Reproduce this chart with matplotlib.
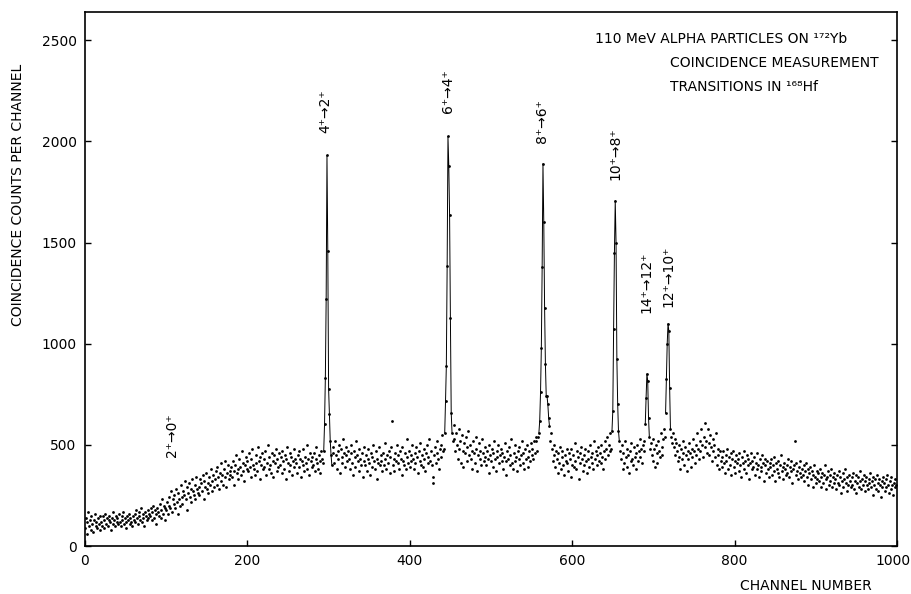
import numpy as np
import matplotlib
matplotlib.use("Agg")
import matplotlib.pyplot as plt
from matplotlib.transforms import ScaledTranslation

plt.rcParams['font.family'] = ['Liberation Sans Narrow', 'DejaVu Sans']

# coincidence counts per channel, keyed by first channel of each run
spectrum = {
    0: [90, 140, 60, 120, 170, 100, 130, 80, 150, 110,
        70, 130, 160, 100, 120, 90, 140, 110, 80, 150],
    20: [120, 100, 150, 130, 90, 160, 110, 140, 100, 130,
         150, 120, 80, 140, 110, 170, 130, 100, 150, 120],
    40: [140, 110, 160, 120, 100, 150, 130, 170, 110, 140,
         120, 90, 150, 130, 160, 110, 140, 120, 100, 150],
    60: [130, 160, 120, 180, 140, 110, 170, 150, 130, 190,
         120, 160, 140, 100, 170, 150, 130, 180, 140, 160],
    80: [150, 190, 130, 170, 200, 140, 180, 160, 110, 190,
         170, 150, 210, 140, 180, 230, 160, 200, 130, 190],
    100: [180, 220, 160, 240, 200, 190, 270, 170, 230, 210,
          250, 190, 280, 220, 160, 260, 230, 200, 300, 240],
    120: [210, 270, 250, 320, 230, 290, 180, 260, 310, 240,
          280, 220, 330, 270, 250, 300, 230, 340, 280, 260],
    140: [290, 250, 330, 310, 270, 350, 230, 320, 290, 360,
          280, 310, 260, 340, 300, 380, 270, 320, 350, 290],
    160: [330, 370, 300, 390, 340, 280, 360, 410, 320, 350,
          300, 380, 340, 420, 290, 360, 400, 330, 370, 350],
    180: [390, 340, 420, 370, 300, 400, 450, 360, 380, 330,
          430, 390, 350, 470, 370, 410, 320, 400, 440, 380],
    200: [420, 370, 460, 390, 340, 430, 480, 400, 380, 350,
          450, 410, 370, 490, 420, 330, 440, 400, 460, 380],
    220: [430, 390, 470, 350, 410, 500, 380, 440, 400, 360,
          460, 420, 340, 450, 410, 480, 370, 430, 390, 460],
    240: [400, 440, 360, 470, 420, 380, 450, 330, 430, 490,
          410, 370, 460, 400, 440, 350, 420, 480, 390, 430],
    260: [410, 360, 450, 390, 470, 430, 340, 420, 480, 400,
          370, 440, 410, 500, 380, 430, 350, 460, 420, 390],
    280: [440, 400, 460, 370, 430, 490, 410, 380, 450, 420,
          360, 470, 430],
    293: [410, 470, 604, 832, 1222, 1931, 1460, 777, 653, 520,
          450, 400],
    305: [460, 490, 410, 520, 450, 380, 470, 430, 500, 360,
          480, 440, 410, 530, 460, 390, 450, 490, 420, 470],
    325: [430, 380, 460, 500, 410, 350, 470, 440, 390, 520,
          450, 420, 370, 480, 430, 400, 460, 340, 490, 420],
    345: [400, 450, 370, 430, 480, 410, 350, 460, 390, 440,
          500, 420, 380, 470, 330, 430, 410, 490, 400, 450],
    365: [420, 370, 460, 400, 510, 430, 380, 450, 410, 470,
          360, 440, 490, 620, 400, 430, 370, 460, 420, 500],
    385: [410, 450, 380, 470, 430, 350, 490, 420, 400, 460,
          380, 530, 440, 410, 470, 390, 450, 420, 500, 430],
    405: [380, 460, 410, 490, 440, 360, 470, 420, 510, 400,
          450, 390, 480, 430, 370, 460, 500, 410, 440, 530],
    425: [420, 470, 400, 340, 310, 450, 490, 410, 460, 520,
          430, 380, 480, 500, 440, 550, 470],
    442: [480, 559, 718, 891, 1386, 2025, 1881, 1634, 1129, 658,
          560, 520],
    454: [600, 530, 470, 560, 500, 430, 580, 480, 520, 410,
          550, 470, 390, 510, 460, 540, 420, 490, 570, 450],
    474: [500, 430, 470, 380, 520, 460, 410, 540, 480, 370,
          450, 510, 430, 470, 400, 530, 460, 420, 490, 440],
    494: [400, 470, 430, 500, 360, 450, 420, 480, 390, 460,
          520, 430, 370, 470, 440, 500, 410, 450, 480, 420],
    514: [460, 380, 440, 510, 420, 350, 470, 430, 490, 400,
          450, 530, 410, 380, 460, 420, 500, 440, 370, 470],
    534: [430, 490, 400, 450, 520, 410, 460, 380, 480, 430,
          500, 440, 390, 470, 420, 510, 450, 480, 430, 520,
          460, 540],
    556: [520, 470, 540, 560, 620, 760, 980, 1380, 1890, 1600,
          1178, 901, 743, 740, 700, 634, 594, 520],
    574: [560, 480, 420, 500, 450, 390, 470, 430, 360, 460,
          410, 490, 380, 440, 470, 400, 350, 450, 420, 480],
    594: [410, 370, 460, 430, 340, 480, 400, 450, 390, 510,
          420, 380, 470, 440, 330, 460, 410, 490, 430, 370],
    614: [450, 400, 480, 420, 360, 470, 430, 390, 500, 440,
          410, 460, 380, 520, 430, 470, 400, 450, 490, 420],
    634: [460, 410, 500, 440, 380, 470, 520, 430, 480, 540,
          450, 500, 470, 560],
    648: [480, 570, 668, 1074, 1450, 1708, 1500, 926, 703, 569,
          520, 470],
    660: [430, 500, 380, 460, 410, 520, 440, 390, 480, 450,
          360, 470, 420, 510, 430, 400, 490, 440, 460, 380,
          500, 420, 470, 530, 440, 480, 410, 500, 470],
    689: [520, 604, 733, 851, 817, 634, 540, 480, 510],
    698: [450, 530, 420, 480, 390, 500, 460, 410, 520, 470,
          440, 560, 490, 450, 530, 580],
    714: [540, 658, 827, 1000, 1099, 1064, 782, 579, 540, 510],
    724: [560, 490, 530, 450, 510, 470, 420, 500, 440, 380,
          480, 430, 520, 460, 400, 490, 450, 370, 470, 430],
    744: [510, 460, 390, 480, 440, 530, 470, 410, 500, 450,
          560, 480, 430, 520, 470, 580, 500, 440, 540, 490],
    764: [610, 520, 460, 580, 510, 450, 550, 490, 420, 530,
          470, 500, 440, 560, 400, 480, 450, 380, 470, 420],
    784: [440, 390, 470, 410, 360, 450, 420, 480, 380, 440,
          400, 460, 350, 430, 470, 390, 420, 360, 450, 410],
    804: [430, 370, 460, 400, 340, 440, 410, 470, 380, 420,
          360, 450, 400, 430, 330, 410, 460, 380, 420, 390],
    824: [440, 350, 410, 380, 460, 400, 340, 430, 390, 370,
          450, 410, 320, 400, 430, 360, 420, 380, 340, 410],
    844: [390, 430, 350, 400, 370, 440, 320, 410, 380, 360,
          420, 340, 400, 450, 370, 390, 330, 410, 380, 350],
    864: [400, 360, 430, 340, 390, 370, 420, 310, 380, 400,
          520, 350, 410, 370, 330, 390, 360, 420, 340, 380],
    884: [350, 400, 320, 370, 410, 340, 380, 300, 360, 390,
          330, 370, 290, 350, 400, 340, 310, 370, 330, 360],
    904: [320, 380, 340, 290, 360, 310, 350, 400, 330, 280,
          340, 370, 300, 350, 320, 380, 290, 340, 310, 360],
    924: [330, 280, 350, 310, 370, 300, 340, 260, 320, 360,
          290, 330, 380, 310, 270, 340, 300, 350, 320, 290],
    944: [340, 300, 360, 280, 320, 350, 260, 310, 340, 290,
          370, 320, 280, 330, 300, 350, 270, 320, 340, 300],
    964: [280, 330, 310, 360, 290, 320, 250, 340, 300, 330,
          280, 350, 310, 270, 330, 300, 240, 320, 290, 340],
    984: [310, 270, 330, 290, 350, 300, 260, 320, 280, 340,
          300, 250, 310, 290, 330, 300],
}

# channel ranges joined by a line (full-energy peaks)
peak_windows = [(294, 304), (443, 452), (559, 572), (649, 658), (690, 695), (715, 721)]

# transition labels: text, channel, counts at the foot of the label
peak_labels = ["2⁺→0⁺", "4⁺→2⁺", "6⁺→4⁺", "8⁺→6⁺", "10⁺→8⁺", "14⁺→12⁺", "12⁺→10⁺"]
label_channels = [107, 296, 447, 563, 653, 692, 718]
label_counts = [440, 2040, 2140, 1990, 1810, 1150, 1180]

x_ticks = [0, 200, 400, 600, 800, 1000]
y_ticks = [0, 500, 1000, 1500, 2000, 2500]

chan = []
cnt = []
for start, vals in spectrum.items():
    chan.extend(range(start, start + len(vals)))
    cnt.extend(vals)
chan = np.array(chan)
cnt = np.array(cnt)
lookup = dict(zip(chan, cnt))

fig = plt.figure(figsize=(9.12, 5.94), dpi=100)
ax = fig.add_axes([85 / 912, 48 / 594, 812 / 912, 534 / 594])

ax.scatter(chan, cnt, s=4, color='black', linewidths=0, zorder=3)
for a, b in peak_windows:
    xs = np.arange(a, b + 1)
    ax.plot(xs, [lookup[c] for c in xs], color='black', lw=0.7, zorder=2)

for txt, c, y in zip(peak_labels, label_channels, label_counts):
    ax.text(c, y, txt, rotation=90, ha='center', va='bottom', fontsize=10)

fig.text(595 / 912, 0.935, "110 MeV ALPHA PARTICLES ON ¹⁷²Yb", fontsize=10, va='center')
fig.text(670 / 912, 0.8935, "COINCIDENCE MEASUREMENT", fontsize=10, va='center')
fig.text(670 / 912, 0.853, "TRANSITIONS IN ¹⁶⁸Hf", fontsize=10, va='center')

ax.set_xlim(0, 1000)
ax.set_ylim(0, 2640)
ax.set_xticks(x_ticks)
ax.set_yticks(y_ticks)
ax.tick_params(direction='in', length=4, width=1, labelsize=10)
ax.tick_params(axis='x', pad=6)
ax.tick_params(axis='y', pad=6, right=True)
for s in ax.spines.values():
    s.set_linewidth(1.2)

# nudge the last x label so it stays inside the canvas
last = ax.get_xticklabels()[-1]
last.set_transform(last.get_transform() + ScaledTranslation(-0.04, 0, fig.dpi_scale_trans))

fig.text(806 / 912, 1 - 586 / 594, "CHANNEL NUMBER", ha='center', va='center', fontsize=10)
fig.text(18 / 912, 1 - 195 / 594, "COINCIDENCE COUNTS PER CHANNEL", rotation=90,
         ha='center', va='center', fontsize=10)

fig.savefig("out.png", dpi=100)
